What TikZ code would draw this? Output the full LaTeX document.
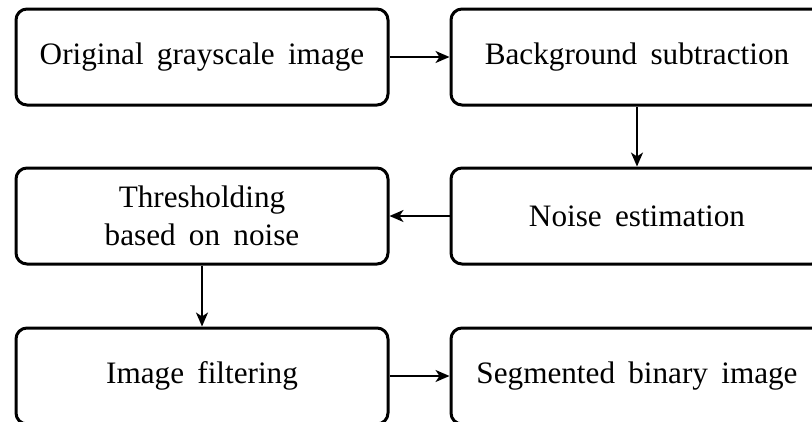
\documentclass[tikz,border=0pt]{standalone}
\usepackage{fontspec}
\setmainfont[WordSpace=1.7]{Liberation Serif}
\usetikzlibrary{arrows.meta}
\begin{document}
\begin{tikzpicture}[x=1pt,y=-1pt,
  stagebox/.style={draw, line width=3pt, rounded corners=11pt, minimum width=372pt, minimum height=96pt,
    align=center, inner sep=0pt, font=\fontsize{31.2}{37.5}\selectfont},
  flow/.style={line width=2pt, -{Stealth[length=14pt,width=12pt,inset=4pt]}}]
\useasboundingbox (0,0) rectangle (812,421);
\clip (0,0) rectangle (812,421);
\node[stagebox] (orig) at (202,57) {Original grayscale image};
\node[stagebox] (bg) at (637,57) {Background subtraction};
\node[stagebox] (noise) at (637,216) {Noise estimation};
\node[stagebox] (thr) at (202,216) {Thresholding\\based on noise};
\node[stagebox] (filt) at (202,376) {Image filtering};
\node[stagebox] (seg) at (637,376) {Segmented binary image};
\draw[flow] (orig) -- (bg);
\draw[flow] (bg) -- (noise);
\draw[flow] (noise) -- (thr);
\draw[flow] (thr) -- (filt);
\draw[flow] (filt) -- (seg);
\end{tikzpicture}
\end{document}
